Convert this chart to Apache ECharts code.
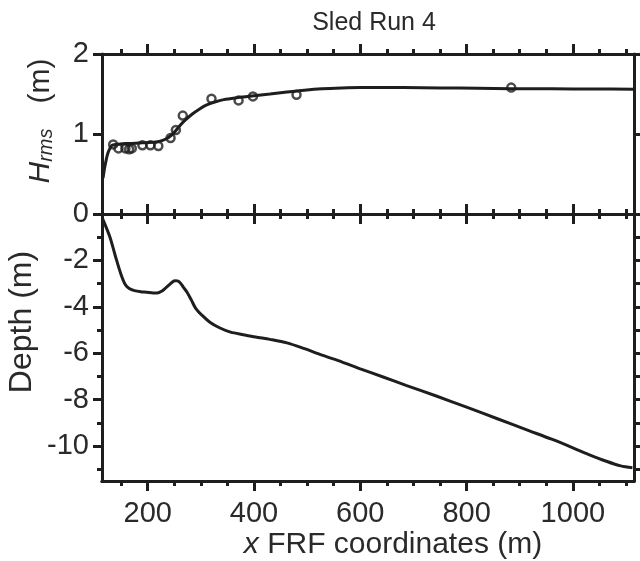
<!DOCTYPE html>
<html>
<head>
<meta charset="utf-8">
<script src="https://cdn.jsdelivr.net/npm/echarts@6/dist/echarts.min.js"></script>
<style>
html,body{margin:0;padding:0;background:#fff;}
#c{width:640px;height:561px;}
</style>
</head>
<body>
<div id="c"></div>
<script>
// ---- data ----
const xTickLabels = [200, 400, 600, 800, 1000];
const xMinorTicks = [150, 250, 300, 350, 450, 500, 550, 650, 700, 750, 850, 900, 950, 1050, 1100];
const hTicks = [0, 1, 2];
const dLabels = [-2, -4, -6, -8, -10];
const dMajor = [0, -2, -4, -6, -8, -10];
const dMinor = [-1, -3, -5, -7, -9, -11];
const dAll = [0, -1, -2, -3, -4, -5, -6, -7, -8, -9, -10, -11];

const hrmsX = [116, 119, 122, 125, 129, 133, 140, 158, 190, 215, 228, 240, 250, 260, 270, 284, 297, 310, 326, 343, 370, 396, 430, 462, 495, 528, 565, 600, 680, 752, 820, 884, 960, 1040, 1114];
const hrmsV = [0.45, 0.58, 0.68, 0.76, 0.82, 0.86, 0.87, 0.88, 0.89, 0.9, 0.92, 0.96, 1.02, 1.1, 1.17, 1.25, 1.31, 1.36, 1.4, 1.43, 1.455, 1.475, 1.5, 1.525, 1.548, 1.565, 1.575, 1.58, 1.58, 1.576, 1.572, 1.567, 1.565, 1.562, 1.56];

const obsX = [135, 145, 158, 165, 170, 190, 205, 220, 243, 253, 266, 320, 371, 398, 480, 884];
const obsV = [0.87, 0.82, 0.82, 0.81, 0.82, 0.86, 0.86, 0.85, 0.95, 1.05, 1.23, 1.44, 1.42, 1.47, 1.49, 1.58];

const depthX = [115, 129, 139, 149, 158, 166, 175, 187, 198, 210, 218, 226, 234, 243, 251, 256, 261, 267, 274, 282, 290, 303, 317, 335, 356, 380, 403, 430, 462, 495, 528, 565, 600, 643, 686, 743, 800, 858, 917, 960, 1000, 1030, 1063, 1090, 1112];
const depthV = [-0.2, -1.0, -1.8, -2.55, -3.05, -3.22, -3.3, -3.35, -3.37, -3.4, -3.4, -3.33, -3.18, -3.0, -2.87, -2.88, -2.96, -3.15, -3.37, -3.7, -4.05, -4.38, -4.66, -4.9, -5.09, -5.2, -5.3, -5.4, -5.55, -5.8, -6.08, -6.37, -6.67, -7.02, -7.38, -7.84, -8.32, -8.82, -9.33, -9.7, -10.07, -10.36, -10.65, -10.85, -10.93];

// ---- styling ----
const INK = '#1e1e1e';
const TXT = '#2a2a2a';
const FONT = 'Liberation Sans';
const FS = 29;
const TFS = 30;
const X_MIN = 114, X_MAX = 1115;

const lbl = { margin: 18, color: TXT, fontSize: FS, fontFamily: FONT, formatter: v => String(v) };

function ax(type, grid, pos, min, max, ticks, len, labels, show) {
  return {
    type: 'value', gridIndex: grid, position: pos, min: min, max: max, show: show !== false,
    axisLine: { show: true, onZero: false, lineStyle: { color: INK, width: 3 } },
    axisTick: { show: !!ticks, customValues: ticks || [], length: len, inside: false, lineStyle: { color: INK, width: 3 } },
    axisLabel: labels ? Object.assign({ show: true, customValues: labels }, lbl, type === 'y' ? { margin: 13 } : {}) : { show: false },
    splitLine: { show: false }
  };
}

const zip = (a, b) => a.map((v, i) => [v, b[i]]);

const chart = echarts.init(document.getElementById('c'), null, { renderer: 'canvas' });
chart.setOption({
  animation: false,
  backgroundColor: '#fff',
  title: {
    text: 'Sled Run 4', left: 369, top: 6, textAlign: 'center',
    textStyle: { fontSize: 25, fontWeight: 'normal', color: TXT, fontFamily: FONT }
  },
  grid: [
    { left: 102, right: 6, top: 54, height: 160 },   // top panel main
    { left: 102, right: 6, top: 54, height: 160 },   // top panel minor ticks
    { left: 102, right: 6, top: 214, height: 267 },  // bottom panel main
    { left: 102, right: 6, top: 214, height: 267 }   // bottom panel minor ticks
  ],
  xAxis: [
    ax('x', 0, 'bottom', X_MIN, X_MAX, xTickLabels, 10, null),
    ax('x', 0, 'top', X_MIN, X_MAX, xTickLabels, 10, null),
    ax('x', 1, 'bottom', X_MIN, X_MAX, xMinorTicks, 5, null),
    ax('x', 1, 'top', X_MIN, X_MAX, xMinorTicks, 5, null),
    ax('x', 2, 'bottom', X_MIN, X_MAX, xTickLabels, 10, xTickLabels),
    ax('x', 2, 'top', X_MIN, X_MAX, xTickLabels, 10, null),
    ax('x', 3, 'bottom', X_MIN, X_MAX, xMinorTicks, 5, null),
    ax('x', 3, 'top', X_MIN, X_MAX, xMinorTicks, 5, null)
  ],
  yAxis: [
    ax('y', 0, 'left', 0, 2, hTicks, 9, hTicks),
    ax('y', 0, 'right', 0, 2, hTicks, 6, null),
    ax('y', 1, 'left', 0, 2, null, 0, null, false),
    ax('y', 1, 'right', 0, 2, null, 0, null, false),
    ax('y', 2, 'left', -11.5, 0, dMajor, 9, dLabels),
    ax('y', 2, 'right', -11.5, 0, dAll, 6, null),
    ax('y', 3, 'left', -11.5, 0, dMinor, 5, null),
    ax('y', 3, 'right', -11.5, 0, null, 0, null, false)
  ],
  series: [
    {
      type: 'line', xAxisIndex: 0, yAxisIndex: 0, data: zip(hrmsX, hrmsV),
      showSymbol: false, smooth: 0.3, lineStyle: { color: INK, width: 3 }, z: 3
    },
    {
      type: 'scatter', xAxisIndex: 0, yAxisIndex: 0, data: zip(obsX, obsV),
      symbol: 'circle', symbolSize: 8,
      itemStyle: { color: 'rgba(0,0,0,0)', borderColor: INK, borderWidth: 2.5 }, z: 4
    },
    {
      type: 'line', xAxisIndex: 4, yAxisIndex: 4, data: zip(depthX, depthV),
      showSymbol: false, smooth: 0.3, lineStyle: { color: INK, width: 3 }, z: 3
    }
  ],
  graphic: [
    {
      type: 'text', x: 393, y: 545,
      style: {
        text: '{i|x}{n| FRF coordinates (m)}',
        align: 'center', verticalAlign: 'middle',
        rich: {
          i: { fontStyle: 'italic', fontSize: TFS, fontFamily: FONT, fill: TXT },
          n: { fontSize: TFS, fontFamily: FONT, fill: TXT }
        }
      }
    },
    {
      type: 'text', x: 22, y: 322, rotation: Math.PI / 2,
      style: { text: 'Depth (m)', fontSize: 32, fontFamily: FONT, fill: TXT, align: 'center', verticalAlign: 'middle' }
    },
    {
      type: 'text', x: 40, y: 121, rotation: Math.PI / 2,
      style: {
        text: '{h|H}{s|rms}{n|   (m)}',
        align: 'center', verticalAlign: 'middle',
        rich: {
          h: { fontStyle: 'italic', fontSize: TFS, fontFamily: FONT, fill: TXT, verticalAlign: 'bottom', lineHeight: 32 },
          s: { fontStyle: 'italic', fontSize: 20, fontFamily: FONT, fill: TXT, verticalAlign: 'bottom', lineHeight: 32, padding: [14, 0, 0, 0] },
          n: { fontSize: TFS, fontFamily: FONT, fill: TXT, verticalAlign: 'bottom', lineHeight: 32 }
        }
      }
    }
  ]
});
</script>
</body>
</html>
